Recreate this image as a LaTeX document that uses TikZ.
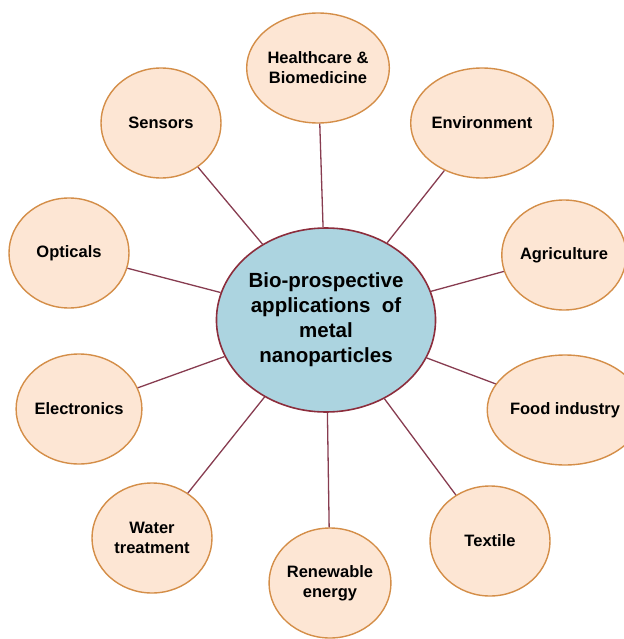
\documentclass[tikz,border=0pt]{standalone}
\usepackage{fontspec}
\setmainfont{Liberation Sans}
\usetikzlibrary{shapes.geometric}

\definecolor{hubfill}{RGB}{172,212,224}
\definecolor{hubline}{RGB}{140,45,60}
\definecolor{leaffill}{RGB}{253,230,212}
\definecolor{leafline}{RGB}{212,142,72}
\definecolor{spoke}{RGB}{135,60,80}

\begin{document}
\begin{tikzpicture}[x=1pt,y=-1pt,
    hub/.style={ellipse,draw=hubline,line width=1.6pt,fill=hubfill,inner sep=0pt,
        minimum width=202pt,minimum height=184pt,align=center,
        font=\fontsize{20.5}{25}\selectfont\bfseries},
    leaf/.style={ellipse,draw=leafline,line width=1.4pt,fill=leaffill,inner sep=0pt,
        minimum width=120pt,minimum height=110pt,align=center,
        font=\fontsize{16.5}{20}\selectfont\bfseries},
    link/.style={draw=spoke,line width=1.3pt}]
        \useasboundingbox (0,0) rectangle (623,639);

        \node[hub] (Bio) at (326, 320) {Bio-prospective\\applications\ \ of\\metal\\nanoparticles};

        \node[leaf] (Health) at (318, 68) {Healthcare \&\\Biomedicine};
        \node[leaf] (Env) at (482, 123) {Environment};
        \node[leaf] (Agri) at (564, 255) {Agriculture};
        \node[leaf] (Food) at (565, 410) {Food industry};
        \node[leaf] (Textile) at (490, 541) {Textile};
        \node[leaf] (Renew) at (330, 583) {Renewable\\energy};
        \node[leaf] (Water) at (152, 538) {Water\\treatment};
        \node[leaf] (Elec) at (79, 409) {Electronics};
        \node[leaf] (Opt) at (69, 253) {Opticals};
        \node[leaf] (Sens) at (161, 123) {Sensors};

        \draw[link] (Bio) -- (Health);
        \draw[link] (Bio) -- (Env);
        \draw[link] (Bio) -- (Agri);
        \draw[link] (Bio) -- (Food);
        \draw[link] (Bio) -- (Textile);
        \draw[link] (Bio) -- (Renew);
        \draw[link] (Bio) -- (Water);
        \draw[link] (Bio) -- (Elec);
        \draw[link] (Bio) -- (Opt);
        \draw[link] (Bio) -- (Sens);
    \end{tikzpicture}
\end{document}
